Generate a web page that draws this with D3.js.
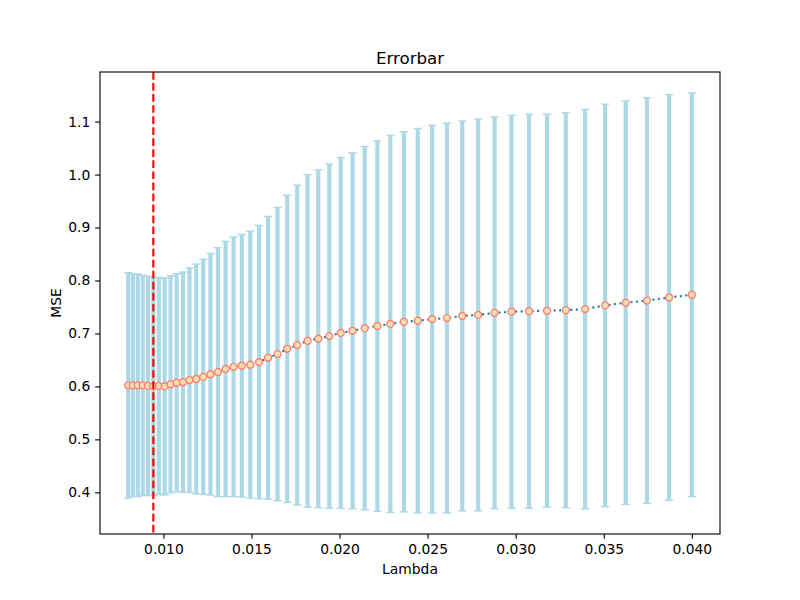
<!DOCTYPE html>
<html>
<head>
<meta charset="utf-8">
<script src="https://cdn.jsdelivr.net/npm/d3@7"></script>
<style>
  body { margin: 0; background: #fff; }
  svg text { font-family: "DejaVu Sans", sans-serif; fill: #000; }
</style>
</head>
<body>
<div id="chart"></div>
<script>
// lambda values (log spaced)
const lambdas = [
  0.008000, 0.008267, 0.008543, 0.008828, 0.009123, 0.009428, 0.009743, 0.010068, 0.010404, 0.010752,
  0.011111, 0.011482, 0.011865, 0.012261, 0.012671, 0.013094, 0.013531, 0.013983, 0.014450, 0.014932,
  0.015431, 0.015946, 0.016478, 0.017029, 0.017597, 0.018185, 0.018792, 0.019419, 0.020068, 0.020738,
  0.021430, 0.022146, 0.022886, 0.023650, 0.024439, 0.025255, 0.026099, 0.026970, 0.027871, 0.028801,
  0.029763, 0.030757, 0.031784, 0.032845, 0.033942, 0.035076, 0.036247, 0.037457, 0.038708, 0.040000
];
const mseMean = [
  0.602, 0.602, 0.602, 0.602, 0.601, 0.600, 0.601, 0.600, 0.604, 0.607,
  0.608, 0.612, 0.614, 0.618, 0.623, 0.627, 0.633, 0.637, 0.639, 0.641,
  0.646, 0.654, 0.661, 0.671, 0.678, 0.686, 0.690, 0.695, 0.701, 0.705,
  0.710, 0.714, 0.718, 0.722, 0.724, 0.727, 0.729, 0.733, 0.735, 0.739,
  0.741, 0.742, 0.743, 0.744, 0.746, 0.753, 0.758, 0.762, 0.768, 0.773
];
const mseStd = [
  0.213, 0.210, 0.210, 0.208, 0.207, 0.206, 0.205, 0.205, 0.205, 0.206,
  0.208, 0.212, 0.217, 0.222, 0.228, 0.235, 0.241, 0.245, 0.248, 0.252,
  0.258, 0.267, 0.277, 0.290, 0.302, 0.314, 0.319, 0.325, 0.331, 0.336,
  0.343, 0.350, 0.356, 0.359, 0.363, 0.366, 0.368, 0.368, 0.370, 0.370,
  0.371, 0.372, 0.371, 0.373, 0.377, 0.380, 0.381, 0.383, 0.383, 0.381
];
const bestLambda = 0.009428;
const xTicks = [0.010, 0.015, 0.020, 0.025, 0.030, 0.035, 0.040];
const yTicks = [0.4, 0.5, 0.6, 0.7, 0.8, 0.9, 1.0, 1.1];

const width = 800, height = 600;
const margin = { top: 72, right: 80, bottom: 66, left: 100 };
const pt = 100 / 72;

const points = lambdas.map((x, i) => ({ x, y: mseMean[i], lo: mseMean[i] - mseStd[i], hi: mseMean[i] + mseStd[i] }));

// matplotlib style 5% padding
function padded(lo, hi) {
  const d = (hi - lo) * 0.05;
  return [lo - d, hi + d];
}

const x = d3.scaleLinear()
  .domain(padded(d3.min(lambdas), d3.max(lambdas)))
  .range([margin.left, width - margin.right]);
const y = d3.scaleLinear()
  .domain(padded(d3.min(points, d => d.lo), d3.max(points, d => d.hi)))
  .range([height - margin.bottom, margin.top]);

const svg = d3.select('#chart')
  .append('svg')
  .attr('width', width)
  .attr('height', height);

// error bars
const bars = svg.append('g');
bars.selectAll('line.err')
  .data(points)
  .enter()
  .append('line')
  .attr('class', 'err')
  .attr('x1', d => x(d.x))
  .attr('x2', d => x(d.x))
  .attr('y1', d => y(d.lo))
  .attr('y2', d => y(d.hi))
  .attr('stroke', 'lightblue')
  .attr('stroke-width', 3 * pt);

const capHalf = 3 * pt;
['lo', 'hi'].forEach(k => {
  bars.selectAll('line.cap-' + k)
    .data(points)
    .enter()
    .append('line')
    .attr('class', 'cap-' + k)
    .attr('x1', d => x(d.x) - capHalf)
    .attr('x2', d => x(d.x) + capHalf)
    .attr('y1', d => y(d[k]))
    .attr('y2', d => y(d[k]))
    .attr('stroke', 'lightblue')
    .attr('stroke-width', pt);
});

// dotted mean line
const line = d3.line().x(d => x(d.x)).y(d => y(d.y));
svg.append('path')
  .datum(points)
  .attr('d', line)
  .attr('fill', 'none')
  .attr('stroke', '#1f77b4')
  .attr('stroke-width', 1.5 * pt)
  .attr('stroke-dasharray', `${1.5 * pt},${2.475 * pt}`);

svg.append('g')
  .selectAll('circle')
  .data(points)
  .enter()
  .append('circle')
  .attr('cx', d => x(d.x))
  .attr('cy', d => y(d.y))
  .attr('r', 2.5 * pt)
  .attr('fill', 'wheat')
  .attr('stroke', 'salmon')
  .attr('stroke-width', pt);

// best lambda marker
svg.append('line')
  .attr('x1', x(bestLambda))
  .attr('x2', x(bestLambda))
  .attr('y1', margin.top)
  .attr('y2', height - margin.bottom)
  .attr('stroke', 'red')
  .attr('stroke-width', 1.5 * pt)
  .attr('stroke-dasharray', `${5.55 * pt},${2.4 * pt}`);

// axes
const xAxis = d3.axisBottom(x)
  .tickValues(xTicks)
  .tickFormat(d3.format('.3f'))
  .tickSize(3.5 * pt)
  .tickPadding(3.5 * pt);
const yAxis = d3.axisLeft(y)
  .tickValues(yTicks)
  .tickFormat(d3.format('.1f'))
  .tickSize(3.5 * pt)
  .tickPadding(3.5 * pt);

const gx = svg.append('g')
  .attr('transform', `translate(0,${height - margin.bottom})`)
  .call(xAxis);
const gy = svg.append('g')
  .attr('transform', `translate(${margin.left},0)`)
  .call(yAxis);
[gx, gy].forEach(g => {
  g.select('.domain').remove();
  g.selectAll('.tick line').attr('stroke', '#000').attr('stroke-width', 0.8 * pt);
  g.selectAll('.tick text').attr('font-size', 10 * pt).attr('font-family', '"DejaVu Sans", sans-serif');
});

// frame
svg.append('rect')
  .attr('x', margin.left)
  .attr('y', margin.top)
  .attr('width', width - margin.left - margin.right)
  .attr('height', height - margin.top - margin.bottom)
  .attr('fill', 'none')
  .attr('stroke', '#000')
  .attr('stroke-width', 0.8 * pt);

svg.append('text')
  .attr('x', (margin.left + width - margin.right) / 2)
  .attr('y', margin.top - 6 * pt)
  .attr('text-anchor', 'middle')
  .attr('font-size', 12 * pt)
  .text('Errorbar');

svg.append('text')
  .attr('x', (margin.left + width - margin.right) / 2)
  .attr('y', 574)
  .attr('text-anchor', 'middle')
  .attr('font-size', 10 * pt)
  .text('Lambda');

svg.append('text')
  .attr('transform', `translate(61,${(margin.top + height - margin.bottom) / 2}) rotate(-90)`)
  .attr('text-anchor', 'middle')
  .attr('font-size', 10 * pt)
  .text('MSE');
</script>
</body>
</html>
